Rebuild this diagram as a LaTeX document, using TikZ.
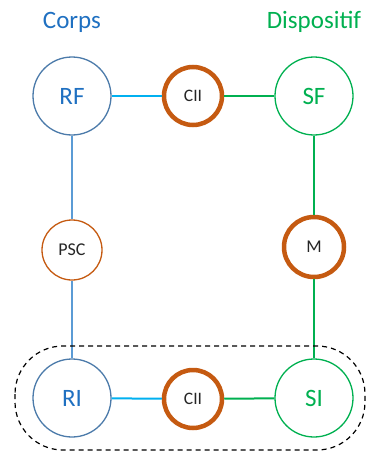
\documentclass[tikz,border=0pt]{standalone}
\usepackage{fontspec}
\setmainfont{Carlito}
\definecolor{bodyblue}{HTML}{4C7BAA}
\definecolor{textblue}{HTML}{1F70C1}
\definecolor{linkblue}{HTML}{00B0F0}
\definecolor{stemblue}{HTML}{5B9BD5}
\definecolor{devgreen}{HTML}{00B050}
\definecolor{burnt}{HTML}{C55A11}
\definecolor{ink}{HTML}{262626}

\begin{document}
\begin{tikzpicture}[x=1pt, y=-1pt,
  big/.style={circle, minimum size=78pt, inner sep=0pt, line width=1.3pt, font=\fontsize{25}{25}\selectfont},
  ring/.style={circle, draw=burnt, text=ink, line width=4.5pt, minimum size=58pt, inner sep=0pt, font=\fontsize{17.5}{17.5}\selectfont},
  lnk/.style={line width=2pt}]
\useasboundingbox (0,0) rectangle (367,452);
\node[textblue, font=\fontsize{25}{25}\selectfont] (corps) at (72,22) {Corps};
\node[devgreen, font=\fontsize{25}{25}\selectfont] (disp) at (314,22) {Dispositif};
\node[big, draw=bodyblue, text=textblue] (rf) at (72,96) {RF};
\node[ring] (ciitop) at (193,96) {CII};
\node[big, draw=devgreen, text=devgreen] (sf) at (314,96) {SF};
\node[circle, draw=burnt, text=ink, line width=1.3pt, minimum size=60pt, inner sep=0pt, font=\fontsize{18}{18}\selectfont] (psc) at (72,250) {PSC};
\node[ring, minimum size=60pt, font=\fontsize{18}{18}\selectfont] (m) at (314,247) {M};
\node[big, draw=bodyblue, text=textblue] (ri) at (72,398) {RI};
\node[ring] (ciibot) at (193,399) {CII};
\node[big, draw=devgreen, text=devgreen] (si) at (314,398) {SI};
\draw[lnk, linkblue] (rf) -- (ciitop);
\draw[lnk, devgreen] (ciitop) -- (sf);
\draw[lnk, stemblue] (rf) -- (psc);
\draw[lnk, stemblue] (psc) -- (ri);
\draw[lnk, devgreen] (sf) -- (m);
\draw[lnk, devgreen] (m) -- (si);
\draw[lnk, linkblue] (ri) -- (ciibot);
\draw[lnk, devgreen] (ciibot) -- (si);
% group of the lower row
\draw[line width=1.2pt, dash pattern=on 5pt off 4pt, rounded corners=48pt] (15,346) rectangle (365,450);
\end{tikzpicture}
\end{document}
